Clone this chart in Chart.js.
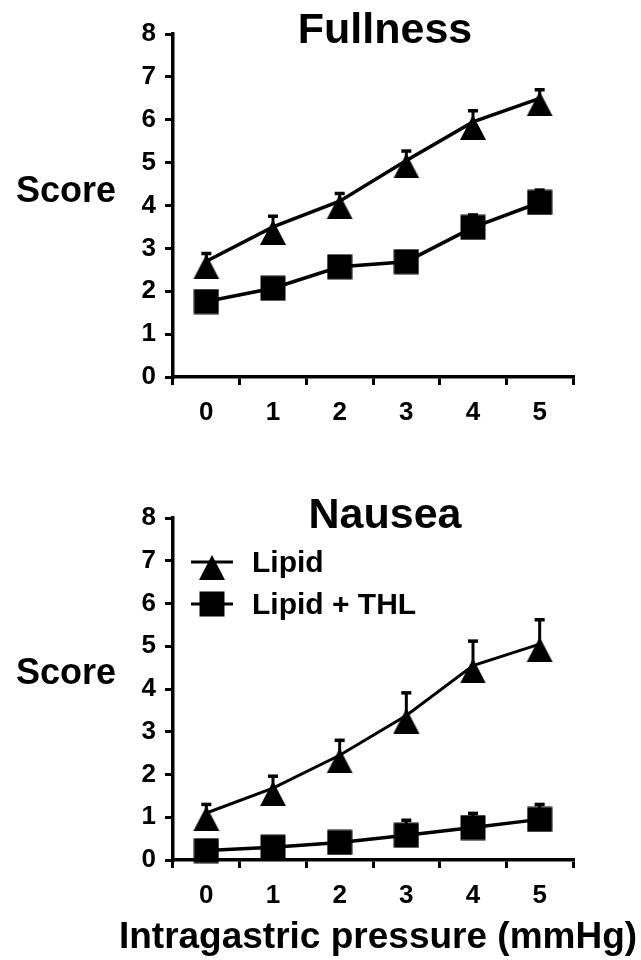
<!DOCTYPE html>
<html>
<head>
<meta charset="utf-8">
<script src="https://cdn.jsdelivr.net/npm/chart.js@4.4.1/dist/chart.umd.min.js"></script>
<style>
  html, body { margin: 0; padding: 0; background: #fff; }
  #wrap { position: relative; width: 641px; height: 960px; }
  canvas { position: absolute; left: 0; }
  #fullness { top: 0; }
  #nausea { top: 480px; }
</style>
</head>
<body>
<div id="wrap">
  <canvas id="fullness" width="641" height="440"></canvas>
  <canvas id="nausea" width="641" height="480"></canvas>
</div>
<script>
/* global Chart */

const pressure = ["0", "1", "2", "3", "4", "5"];

// Fullness panel
const fullLipid    = [2.7, 3.5, 4.1, 5.05, 5.95, 6.5];
const fullLipidErr = [0.18, 0.25, 0.18, 0.22, 0.26, 0.2];
const fullThl      = [1.76, 2.07, 2.57, 2.69, 3.49, 4.07];
const fullThlErr   = [0.15, 0.15, 0.2, 0.2, 0.29, 0.29];

// Nausea panel
const nauLipid    = [1.1, 1.68, 2.45, 3.38, 4.55, 5.05];
const nauLipidErr = [0.2, 0.28, 0.35, 0.53, 0.57, 0.57];
const nauThl      = [0.22, 0.3, 0.41, 0.58, 0.76, 0.95];
const nauThlErr   = [0.1, 0.1, 0.1, 0.35, 0.33, 0.35];

const FONT = '"Liberation Sans", Arial, sans-serif';

// marker images: triangle sits a bit below its data point like the original
function triangleImg(lineLen) {
  const c = document.createElement("canvas");
  c.width = lineLen || 28;
  c.height = 36;
  const g = c.getContext("2d");
  const cx = c.width / 2;
  g.fillStyle = "#000";
  if (lineLen) g.fillRect(0, 16.5, lineLen, 3);
  g.beginPath();
  g.moveTo(cx, 11);
  g.lineTo(cx + 13, 36);
  g.lineTo(cx - 13, 36);
  g.closePath();
  g.fill();
  return c;
}

function squareImg(lineLen) {
  const c = document.createElement("canvas");
  c.width = lineLen || 26;
  c.height = 26;
  const g = c.getContext("2d");
  g.fillStyle = "#000";
  if (lineLen) g.fillRect(0, 11.5, lineLen, 3);
  g.fillRect(c.width / 2 - 12.5, 0.5, 25, 25);
  return c;
}

const triMarker = triangleImg();
const sqMarker = squareImg();
const triLegend = triangleImg(42);
const sqLegend = squareImg(42);

const errorBars = {
  id: "errorBars",
  beforeDatasetsDraw(chart) {
    const ctx = chart.ctx;
    const y = chart.scales.y;
    ctx.save();
    ctx.strokeStyle = "#000";
    chart.data.datasets.forEach((ds, i) => {
      const meta = chart.getDatasetMeta(i);
      meta.data.forEach((pt, j) => {
        const top = y.getPixelForValue(ds.data[j] + ds.errors[j]);
        ctx.lineWidth = 3;
        ctx.beginPath();
        ctx.moveTo(pt.x, pt.y);
        ctx.lineTo(pt.x, top);
        ctx.stroke();
        ctx.lineWidth = 3.5;
        ctx.beginPath();
        ctx.moveTo(pt.x - 5, top);
        ctx.lineTo(pt.x + 5, top);
        ctx.stroke();
      });
    });
    ctx.restore();
  },
};

const panelText = {
  id: "panelText",
  afterDraw(chart, args, opts) {
    const ctx = chart.ctx;
    ctx.save();
    ctx.fillStyle = "#000";
    ctx.textBaseline = "alphabetic";
    ctx.textAlign = "center";
    ctx.font = "bold 43px " + FONT;
    ctx.fillText(opts.title, opts.titleX, opts.titleY);
    if (opts.xTitle) {
      ctx.font = "bold 37px " + FONT;
      ctx.fillText(opts.xTitle, opts.xTitleX, opts.xTitleY);
    }
    ctx.textAlign = "left";
    ctx.font = "bold 36px " + FONT;
    ctx.fillText(opts.yLabel, opts.yLabelX, opts.yLabelY);
    if (opts.legend) {
      ctx.font = "bold 30px " + FONT;
      chart.data.datasets.forEach((ds, i) => {
        const img = ds.legendImg;
        const cy = opts.legendY + i * opts.legendGap;
        ctx.drawImage(img, opts.legendX, cy - img.height / 2);
        ctx.fillText(ds.label, opts.legendTextX, cy + 10);
      });
    }
    ctx.restore();
  },
};

function makeChart(id, lipid, lipidErr, thl, thlErr, cfg) {
  const datasets = [
    {
      label: "Lipid",
      data: lipid,
      errors: lipidErr,
      legendImg: triLegend,
      borderColor: "#000",
      backgroundColor: "#000",
      borderWidth: cfg.lipidWidth,
      pointStyle: triMarker,
      pointRadius: 12,
      tension: 0,
      clip: false,
    },
    {
      label: "Lipid + THL",
      data: thl,
      errors: thlErr,
      legendImg: sqLegend,
      borderColor: "#000",
      backgroundColor: "#000",
      borderWidth: 3.5,
      pointStyle: sqMarker,
      pointRadius: 12,
      tension: 0,
      clip: false,
    },
  ];

  return new Chart(document.getElementById(id), {
    type: "line",
    data: { labels: pressure, datasets },
    plugins: [errorBars, panelText],
    options: {
      responsive: false,
      animation: false,
      layout: { padding: { top: cfg.padTop, right: 68, bottom: 0, left: 0 } },
      plugins: {
        legend: { display: false },
        tooltip: { enabled: false },
        panelText: cfg.text,
      },
      scales: {
        x: {
          type: "category",
          offset: true,
          afterFit: (s) => { s.height = cfg.xHeight; },
          grid: {
            offset: true,
            drawOnChartArea: false,
            color: "#000",
            lineWidth: 3,
            tickLength: 8,
          },
          border: { color: "#000", width: 3.5 },
          ticks: {
            color: "#000",
            padding: 12,
            font: { family: FONT, size: 26, weight: "bold" },
          },
        },
        y: {
          min: 0,
          max: 8,
          afterFit: (s) => { s.width = 173; },
          grid: {
            drawOnChartArea: false,
            color: "#000",
            lineWidth: 3,
            tickLength: 8,
          },
          border: { color: "#000", width: 3.5 },
          ticks: {
            stepSize: 1,
            color: "#000",
            padding: 9,
            font: { family: FONT, size: 26, weight: "bold" },
          },
        },
      },
    },
  });
}

makeChart("fullness", fullLipid, fullLipidErr, fullThl, fullThlErr, {
  padTop: 34,
  xHeight: 63,
  lipidWidth: 3.5,
  text: { title: "Fullness", titleX: 385, titleY: 43, yLabel: "Score", yLabelX: 16, yLabelY: 202, legend: false },
});

makeChart("nausea", nauLipid, nauLipidErr, nauThl, nauThlErr, {
  padTop: 38,
  xHeight: 100,
  lipidWidth: 3,
  text: {
    title: "Nausea", titleX: 385, titleY: 48, yLabel: "Score", yLabelX: 16, yLabelY: 204,
    xTitle: "Intragastric pressure (mmHg)", xTitleX: 378, xTitleY: 468,
    legend: true, legendX: 191, legendY: 82, legendGap: 42, legendTextX: 252,
  },
});
</script>
</body>
</html>
